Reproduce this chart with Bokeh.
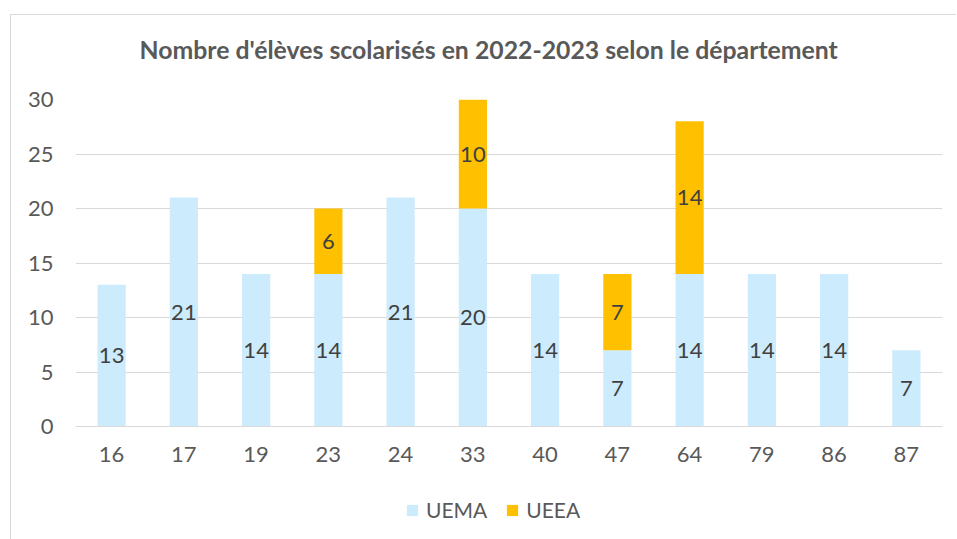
from bokeh.plotting import figure
from bokeh.models import ColumnDataSource, Legend, LegendItem, FixedTicker, Spacer, Title
from bokeh.layouts import column, row
from bokeh.embed import file_html
from bokeh.resources import INLINE
from bokeh.core.properties import value

departements = ["16", "17", "19", "23", "24", "33", "40", "47", "64", "79", "86", "87"]
uema = [13, 21, 14, 14, 21, 20, 14, 7, 14, 14, 14, 7]
ueea = [0, 0, 0, 6, 0, 10, 0, 7, 14, 0, 0, 0]
series_names = ["UEMA", "UEEA"]
title_text = "Nombre d'élèves scolarisés en 2022-2023 selon le département"

BLUE = "#CCEBFC"
GOLD = "#FFC000"
TXT = "#595959"
FONT = "Lato"
FS = "22px"
COLORS = [BLUE, GOLD]

src = ColumnDataSource(dict(dep=departements, UEMA=uema, UEEA=ueea))

p = figure(x_range=departements, y_range=(0, 30), width=946, height=466,
           output_backend="svg", toolbar_location=None,
           min_border_left=64, min_border_right=15, min_border_top=84, min_border_bottom=55)
p.styles = {"border-left": "1.5px solid #d9d9d9", "border-top": "1.5px solid #d9d9d9"}

p.vbar_stack(series_names, x="dep", width=0.39, color=COLORS, source=src, line_width=0)

# value labels
lx, ly, lt = [], [], []
for d, a, b in zip(departements, uema, ueea):
    if a > 0:
        lx.append(d); ly.append(a / 2); lt.append(str(a))
    if b > 0:
        lx.append(d); ly.append(a + b / 2); lt.append(str(b))
p.text(x=lx, y=ly, text=lt, text_align="center", text_baseline="middle",
       text_font=value(FONT), text_font_size=FS, text_color="#404040")

# spacer title (closest to frame), then the real title
p.add_layout(Title(text=" ", text_font_size="12px", standoff=3), "above")
p.add_layout(Title(text=title_text, align="left", offset=64, standoff=33, text_font=FONT,
                   text_font_size="24.8px", text_font_style="bold", text_color=TXT), "above")

p.outline_line_color = None
p.xgrid.grid_line_color = None
p.ygrid.grid_line_color = "#d9d9d9"
p.ygrid.grid_line_width = 1
p.yaxis.ticker = FixedTicker(ticks=[0, 5, 10, 15, 20, 25, 30])
p.yaxis.axis_line_color = None
p.yaxis.major_tick_line_color = None
p.yaxis.minor_tick_line_color = None
p.yaxis.major_tick_out = 0
p.yaxis.major_label_standoff = 22
p.xaxis.axis_line_color = "#d9d9d9"
p.xaxis.major_tick_line_color = None
p.xaxis.major_tick_out = 0
p.xaxis.major_label_standoff = 20
for ax in (p.xaxis, p.yaxis):
    ax.major_label_text_font = FONT
    ax.major_label_text_font_size = FS
    ax.major_label_text_color = TXT

# legend strip below the chart (its bars lie far outside its visible range)
lf = figure(x_range=departements, y_range=(1000, 1001), width=946, height=59,
            output_backend="svg", toolbar_location=None,
            x_axis_type=None, y_axis_type=None, min_border=0)
lf.styles = {"border-left": "1.5px solid #d9d9d9"}
lf.outline_line_color = None
lf.grid.grid_line_color = None
lr = lf.vbar_stack(series_names, x="dep", width=0.39, color=COLORS, source=src, line_width=0)
legend = Legend(items=[LegendItem(label=n, renderers=[rr]) for n, rr in zip(series_names, lr)],
                orientation="horizontal", location=(330, 17), border_line_color=None,
                background_fill_alpha=0, padding=0, margin=0, spacing=18,
                glyph_width=14, glyph_height=14, label_standoff=7,
                label_text_font=FONT, label_text_font_size="21px", label_text_color=TXT)
lf.add_layout(legend)

layout = column(Spacer(height=14), row(Spacer(width=10), column(p, lf, spacing=0)), spacing=0)

open("out.html", "w").write(file_html(layout, INLINE))
